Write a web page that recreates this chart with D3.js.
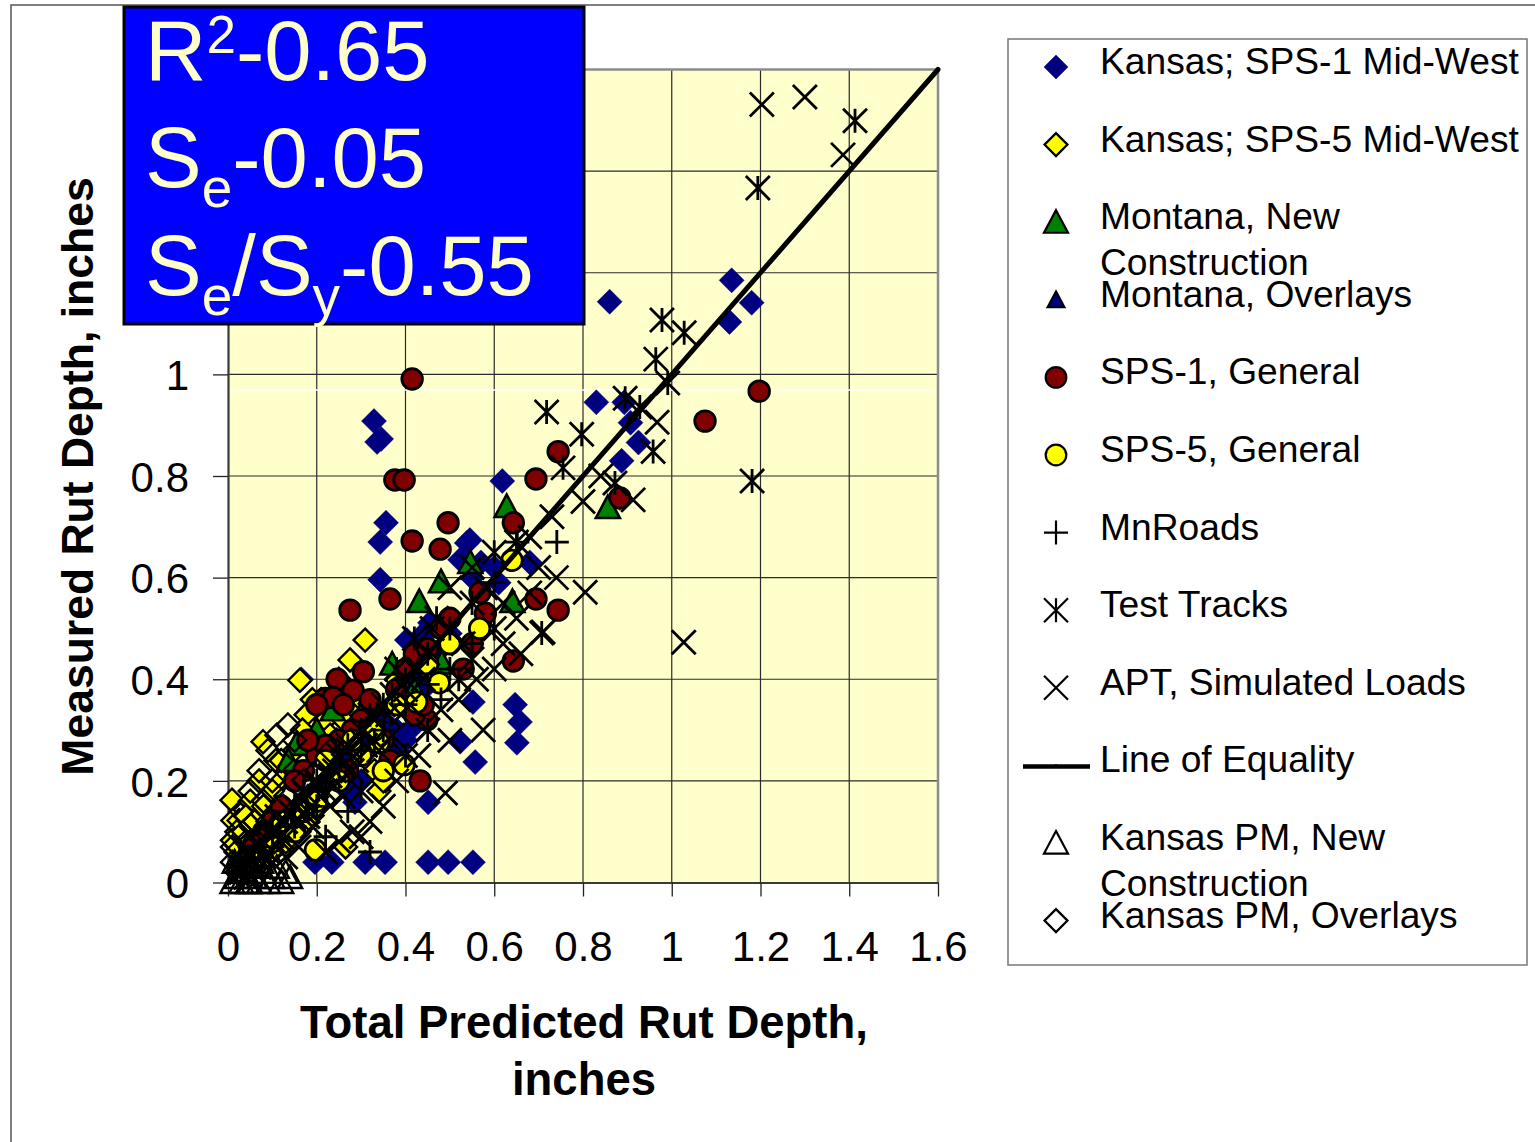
<!DOCTYPE html>
<html>
<head>
<meta charset="utf-8">
<script src="https://cdn.jsdelivr.net/npm/d3@7"></script>
<style>
  body { margin: 0; background: #fff; }
  svg { display: block; }
  text { font-family: Arial, "Liberation Sans", sans-serif; }
</style>
</head>
<body>
<svg id="chart" width="1535" height="1142"></svg>
<script>
// ---- data: [predicted, measured] rut depth in inches ----
const xTickValues = [0, 0.2, 0.4, 0.6, 0.8, 1, 1.2, 1.4, 1.6];
const yTickValues = [0, 0.2, 0.4, 0.6, 0.8, 1, 1.2, 1.4, 1.6];
const xTickLabels = ["0", "0.2", "0.4", "0.6", "0.8", "1", "1.2", "1.4", "1.6"];
// the upper labels sit under the statistics box and are left blank
const yTickLabels = ["0", "0.2", "0.4", "0.6", "0.8", "1", "", "", ""];

const kansasSps1 = [
  [0.86,1.143],[1.135,1.185],[1.18,1.141],[1.13,1.103],
  [0.83,0.945],[0.893,0.945],[0.907,0.905],[0.925,0.866],[0.887,0.83],[0.883,0.757],
  [0.618,0.79],[0.68,0.63],[0.545,0.674],[0.523,0.635],[0.455,0.511],[0.433,0.483],
  [0.403,0.477],[0.455,0.497],[0.57,0.63],[0.61,0.59],[0.55,0.6],[0.6,0.62],
  [0.329,0.908],[0.336,0.867],[0.345,0.873],[0.356,0.708],[0.343,0.67],[0.343,0.596],
  [0.538,0.668],[0.647,0.35],[0.658,0.316],[0.651,0.275],[0.557,0.237],[0.552,0.355],
  [0.523,0.277],[0.451,0.158],[0.286,0.158],[0.165,0.4],
  [0.196,0.04],[0.234,0.04],[0.309,0.04],[0.354,0.04],[0.451,0.04],[0.496,0.04],[0.552,0.04],
  [0.25,0.22],[0.28,0.25],[0.3,0.28],[0.32,0.3],[0.27,0.18],[0.22,0.2],[0.18,0.17],
  [0.15,0.12],[0.12,0.1],[0.35,0.32],[0.38,0.3],[0.4,0.36],[0.42,0.4],[0.44,0.38],
  [0.3,0.2],[0.33,0.22],[0.36,0.26],[0.4,0.28],[0.41,0.3],[0.38,0.26],[0.48,0.46],[0.5,0.49]
];
const kansasSps5 = [
  [0.009,0.162],[0.011,0.122],[0.025,0.122],[0.01,0.083],[0.018,0.06],[0.079,0.277],
  [0.108,0.24],[0.07,0.2],[0.162,0.398],[0.19,0.36],[0.176,0.33],[0.168,0.3],
  [0.309,0.477],[0.275,0.438],[0.25,0.4],[0.21,0.36],[0.22,0.32],[0.23,0.29],
  [0.245,0.28],[0.12,0.2],[0.1,0.18],[0.05,0.16],[0.04,0.13],[0.035,0.1],[0.06,0.12],
  [0.08,0.15],[0.14,0.23],[0.15,0.26],[0.28,0.34],[0.3,0.36],[0.26,0.32],[0.2,0.25],
  [0.33,0.22],[0.34,0.18],[0.35,0.2],[0.265,0.07],[0.13,0.08],[0.1,0.06],[0.577,0.5],
  [0.2,0.15],[0.18,0.12],[0.07,0.05],[0.38,0.4],[0.16,0.1],[0.48,0.5]
];
const montanaNew = [
  [0.628,0.74],[0.856,0.738],[0.641,0.553],[0.431,0.553],[0.48,0.592],[0.546,0.63],
  [0.154,0.272],[0.136,0.24],[0.236,0.34],[0.2,0.3],[0.37,0.43],[0.482,0.432],
  [0.05,0.08],[0.06,0.05],[0.3,0.33],[0.42,0.38]
];
const montanaOverlays = [
  [0.1,0.12],[0.15,0.14],[0.2,0.18],[0.25,0.24],[0.3,0.27],[0.08,0.07],[0.35,0.33],[0.12,0.15]
];
const sps1General = [
  [0.415,0.991],[0.376,0.792],[0.397,0.792],[1.075,0.908],[1.197,0.967],[0.694,0.794],
  [0.744,0.848],[0.883,0.757],[0.496,0.708],[0.415,0.672],[0.478,0.656],[0.643,0.708],
  [0.365,0.558],[0.275,0.536],[0.694,0.558],[0.744,0.536],[0.643,0.436],[0.568,0.571],
  [0.58,0.53],[0.55,0.47],[0.53,0.42],[0.448,0.32],
  [0.433,0.2],[0.365,0.24],[0.246,0.4],[0.282,0.378],[0.305,0.415],[0.219,0.362],
  [0.237,0.364],[0.2,0.35],[0.26,0.35],[0.3,0.32],[0.33,0.3],[0.35,0.28],[0.28,0.3],
  [0.2,0.25],[0.17,0.22],[0.15,0.2],[0.12,0.15],[0.1,0.12],[0.25,0.28],[0.22,0.27],
  [0.32,0.36],[0.4,0.42],[0.42,0.45],[0.38,0.38],[0.45,0.46],[0.48,0.5],[0.5,0.52],
  [0.08,0.1],[0.06,0.08],[0.27,0.22],[0.18,0.28],[0.42,0.33],[0.44,0.35]
];
const sps5General = [
  [0.64,0.634],[0.397,0.232],[0.476,0.393],[0.197,0.064],[0.34,0.275],[0.35,0.22],
  [0.567,0.5],[0.425,0.355],[0.5,0.47],[0.3,0.25],[0.25,0.2],[0.2,0.16],[0.15,0.1],
  [0.1,0.08],[0.12,0.12],[0.22,0.24],[0.28,0.28],[0.33,0.3],[0.38,0.35],[0.45,0.43],
  [0.06,0.05],[0.17,0.14]
];
const mnRoads = [
  [0.741,0.67],[0.652,0.67],[0.6,0.59],[0.5,0.42],[0.45,0.39],[0.4,0.35],[0.35,0.3],
  [0.3,0.26],[0.25,0.2],[0.2,0.15],[0.15,0.11],[0.1,0.07],[0.05,0.03],[0.32,0.06],
  [0.27,0.14],[0.22,0.09],[0.48,0.36],[0.55,0.47]
];
const testTracks = [
  [1.413,1.499],[1.194,1.367],[0.978,1.107],[1.028,1.082],[0.964,1.03],[0.991,0.983],
  [0.895,0.953],[0.928,0.936],[0.958,0.848],[1.181,0.79],[0.872,0.786],[0.718,0.926],
  [0.797,0.882],[0.755,0.816],[0.707,0.491],[0.6,0.65],[0.65,0.67],[0.55,0.55],
  [0.5,0.5],[0.45,0.45],[0.4,0.4],[0.35,0.35],[0.3,0.3],[0.25,0.25],[0.2,0.2],
  [0.15,0.15],[0.1,0.1],[0.05,0.05],[0.47,0.52],[0.42,0.48],[0.38,0.42],[0.33,0.28],
  [0.28,0.22],[0.22,0.18],[0.18,0.14],[0.12,0.08],[0.08,0.05],[0.03,0.02],[0.55,0.44],
  [0.52,0.4],[0.6,0.5],[0.45,0.3],[0.4,0.25],[0.3,0.18],
  [0.07,0.07],[0.13,0.12],[0.17,0.18],[0.23,0.21],[0.27,0.27],[0.32,0.33],[0.37,0.37],[0.43,0.42]
];
const aptSimulated = [
  [1.203,1.531],[1.3,1.546],[1.386,1.432],[1.027,0.473],[0.805,0.571],[0.71,0.493],
  [0.74,0.6],[0.913,0.753],[0.967,0.906],[0.84,0.8],[0.8,0.75],[0.73,0.72],[0.68,0.68],
  [0.66,0.45],[0.65,0.52],[0.62,0.47],[0.6,0.42],[0.575,0.3],[0.49,0.176],[0.5,0.28],
  [0.56,0.4],[0.52,0.36],[0.48,0.34],[0.45,0.3],[0.43,0.25],[0.38,0.2],[0.35,0.15],
  [0.32,0.12],[0.3,0.09],[0.28,0.1],[0.25,0.08],[0.22,0.06],[0.58,0.58],[0.55,0.62],
  [0.5,0.58],[0.46,0.5],[0.42,0.42],[0.4,0.38],[0.36,0.33],[0.33,0.32],[0.3,0.28],
  [0.27,0.26],[0.24,0.22],[0.2,0.19],[0.17,0.16],[0.14,0.14],[0.11,0.1],[0.08,0.08],
  [0.05,0.06],[0.03,0.03],[0.06,0.02],[0.1,0.04],[0.13,0.05],[0.16,0.07],[0.19,0.11],
  [0.23,0.15],[0.26,0.17],[0.68,0.57],[0.62,0.55],[0.7,0.62],[0.53,0.47],
  [0.04,0.01],[0.07,0.03],[0.09,0.06],[0.12,0.09],[0.15,0.12],[0.18,0.13],[0.21,0.17],
  [0.24,0.19],[0.26,0.23],[0.29,0.24],[0.31,0.27],[0.34,0.26],[0.37,0.29],[0.39,0.33],
  [0.41,0.35],[0.44,0.4],[0.02,0.05],[0.05,0.09],[0.08,0.11],[0.11,0.13]
];
const equalityLine = [[0, 0], [1.6, 1.6]];
const kansasPmNew = [
  [0.01,0.0],[0.02,0.01],[0.03,0.0],[0.04,0.02],[0.05,0.0],[0.06,0.01],[0.07,0.0],
  [0.08,0.02],[0.09,0.0],[0.1,0.01],[0.12,0.0],[0.13,0.02],[0.015,0.04],[0.035,0.05],
  [0.055,0.03],[0.075,0.04],[0.11,0.03],[0.14,0.01],[0.025,0.02],[0.045,0.0]
];
const kansasPmOverlays = [
  [0.135,0.31],[0.11,0.29],[0.09,0.26],[0.07,0.22],[0.05,0.18],[0.03,0.14],[0.02,0.1],
  [0.01,0.07],[0.01,0.04],[0.04,0.08],[0.06,0.12],[0.08,0.16],[0.1,0.2],[0.12,0.24],
  [0.15,0.28],[0.05,0.05],[0.03,0.03],[0.07,0.09],[0.09,0.12],[0.17,0.2],[0.2,0.22],
  [0.13,0.17],[0.23,0.26],[0.02,0.02]
];
const statLines = [
  { main: "R", sup: "2", rest: "-0.65" },
  { main: "S", sub: "e", rest: "-0.05" },
  { main: "S", sub: "e", mid: "/S", sub2: "y", rest: "-0.55" }
];

// ---- marker shapes ----
const shapes = {
  diamond: s => `M0,${-s}L${s},0L0,${s}L${-s},0Z`,
  triangle: s => `M0,${-s}L${s},${s * 0.88}L${-s},${s * 0.88}Z`,
  plus: s => `M${-s},0H${s}M0,${-s}V${s}`,
  cross: s => `M${-s},${-s}L${s},${s}M${s},${-s}L${-s},${s}`,
  asterisk: s => `M${-s},${-s}L${s},${s}M${s},${-s}L${-s},${s}M0,${-s}V${s}`,
  circle: s => `M${-s},0A${s},${s} 0 1,0 ${s},0A${s},${s} 0 1,0 ${-s},0Z`
};

const series = [
  { label: ["Kansas; SPS-1 Mid-West"], data: kansasSps1, shape: "diamond", size: 12.5, fill: "#000080", stroke: "#000080", sw: 0.5 },
  { label: ["Kansas; SPS-5 Mid-West"], data: kansasSps5, shape: "diamond", size: 11.5, fill: "#FFFF00", stroke: "#000", sw: 2.4 },
  { label: ["Montana, New", "Construction"], data: montanaNew, shape: "triangle", size: 12, fill: "#008000", stroke: "#000", sw: 2.6 },
  { label: ["Montana, Overlays"], data: montanaOverlays, shape: "triangle", size: 8.5, fill: "#000080", stroke: "#000", sw: 2 },
  { label: ["SPS-1, General"], data: sps1General, shape: "circle", size: 10.3, fill: "#800000", stroke: "#000", sw: 2.8 },
  { label: ["SPS-5, General"], data: sps5General, shape: "circle", size: 10.3, fill: "#FFFF00", stroke: "#000", sw: 2.8 },
  { label: ["MnRoads"], data: mnRoads, shape: "plus", size: 12, fill: "none", stroke: "#000", sw: 2.8 },
  { label: ["Test Tracks"], data: testTracks, shape: "asterisk", size: 12, fill: "none", stroke: "#000", sw: 2.8 },
  { label: ["APT, Simulated Loads"], data: aptSimulated, shape: "cross", size: 12, fill: "none", stroke: "#000", sw: 2.8 },
  { label: ["Line of Equality"], data: equalityLine, line: true },
  { label: ["Kansas PM, New", "Construction"], data: kansasPmNew, shape: "triangle", size: 12, fill: "none", stroke: "#000", sw: 2.4 },
  { label: ["Kansas PM, Overlays"], data: kansasPmOverlays, shape: "diamond", size: 11.5, fill: "none", stroke: "#000", sw: 2.4 }
];

// ---- layout ----
const svg = d3.select("#chart");
const plot = { left: 228, right: 938, top: 69.5, bottom: 882.5 };
const x = d3.scaleLinear().domain([0, 1.6]).range([plot.left, plot.right]);
const y = d3.scaleLinear().domain([0, 1.6]).range([plot.bottom, plot.top]);

// outer chart frame
svg.append("path")
  .attr("d", "M11,1142V5H1535")
  .attr("fill", "none").attr("stroke", "#555").attr("stroke-width", 1.5);

// plot area
svg.append("rect")
  .attr("x", plot.left).attr("y", plot.top)
  .attr("width", plot.right - plot.left).attr("height", plot.bottom - plot.top)
  .attr("fill", "#FFFFCC");

// gridlines
const grid = svg.append("g").attr("stroke", "#2a2a2a").attr("stroke-width", 1.2);
grid.selectAll("line.v").data(xTickValues.slice(1, -1)).join("line")
  .attr("x1", d => x(d)).attr("x2", d => x(d))
  .attr("y1", plot.top).attr("y2", plot.bottom);
grid.selectAll("line.h").data(yTickValues.slice(1, -1)).join("line")
  .attr("y1", d => y(d)).attr("y2", d => y(d))
  .attr("x1", plot.left).attr("x2", plot.right);

// thin light rule across the plot area
svg.append("line")
  .attr("x1", plot.left + 2).attr("x2", plot.right - 2)
  .attr("y1", 390).attr("y2", 390)
  .attr("stroke", "#ffffff").attr("stroke-width", 1.5);

// plot border (top/right)
svg.append("path")
  .attr("d", `M${plot.left},${plot.top}H${plot.right}V${plot.bottom}`)
  .attr("fill", "none").attr("stroke", "#8c8c8c").attr("stroke-width", 2.5);

// axes
const xAxis = d3.axisBottom(x).tickValues(xTickValues)
  .tickFormat((d, i) => xTickLabels[i]).tickSizeInner(14).tickSizeOuter(0).tickPadding(35);
const yAxis = d3.axisLeft(y).tickValues(yTickValues)
  .tickFormat((d, i) => yTickLabels[i]).tickSizeInner(15).tickSizeOuter(0).tickPadding(24);

const gx = svg.append("g").attr("transform", `translate(0,${plot.bottom})`).call(xAxis);
const gy = svg.append("g").attr("transform", `translate(${plot.left},0)`).call(yAxis);
[gx, gy].forEach(g => {
  g.select(".domain").attr("stroke", "#3a3a3a").attr("stroke-width", 2.2);
  g.selectAll(".tick line").attr("stroke", "#222").attr("stroke-width", 1.3);
  g.selectAll(".tick text").attr("font-size", 42).attr("fill", "#000")
    .attr("font-family", "Arial, 'Liberation Sans', sans-serif");
});
gx.selectAll(".tick text").attr("dy", "0.71em");
gy.selectAll(".tick text").attr("dy", "0.36em");

// axis titles
svg.append("text")
  .attr("transform", "translate(93,476.5) rotate(-90)")
  .attr("text-anchor", "middle").attr("font-weight", "bold").attr("font-size", 44.5)
  .text("Measured Rut Depth, inches");
svg.append("text")
  .attr("x", 584).attr("y", 1038)
  .attr("text-anchor", "middle").attr("font-weight", "bold").attr("font-size", 45.5)
  .text("Total Predicted Rut Depth,");
svg.append("text")
  .attr("x", 584).attr("y", 1095)
  .attr("text-anchor", "middle").attr("font-weight", "bold").attr("font-size", 45.5)
  .text("inches");

// series
const marks = svg.append("g");
const lineGen = d3.line().x(d => x(d[0])).y(d => y(d[1]));
series.forEach(s => {
  if (s.line) {
    marks.append("path").attr("d", lineGen(s.data))
      .attr("fill", "none").attr("stroke", "#000").attr("stroke-width", 5)
      .attr("stroke-linecap", "round");
    return;
  }
  marks.append("g").selectAll("path").data(s.data).join("path")
    .attr("transform", d => `translate(${x(d[0])},${y(d[1])})`)
    .attr("d", shapes[s.shape](s.size))
    .attr("fill", s.fill).attr("stroke", s.stroke).attr("stroke-width", s.sw)
    .attr("stroke-linejoin", "miter");
});

// statistics box
const box = svg.append("g");
box.append("rect")
  .attr("x", 124).attr("y", 7).attr("width", 460).attr("height", 317)
  .attr("fill", "#0000FF").attr("stroke", "#000").attr("stroke-width", 3);
const statBase = [80, 187, 295];
statLines.forEach((ln, i) => {
  const t = box.append("text").attr("x", 145).attr("y", statBase[i])
    .attr("font-size", 85).attr("fill", "#FFFFCC");
  t.append("tspan").text(ln.main);
  if (ln.sup) t.append("tspan").attr("font-size", 53).attr("dy", -27).text(ln.sup);
  if (ln.sub) t.append("tspan").attr("font-size", 55).attr("dy", 20).text(ln.sub);
  if (ln.mid) {
    t.append("tspan").attr("dy", -20).text(ln.mid);
    t.append("tspan").attr("font-size", 55).attr("dy", 20).text(ln.sub2);
  }
  const back = ln.sup ? 27 : -20;
  t.append("tspan").attr("dy", back).text(ln.rest);
});

// legend
const legend = svg.append("g");
legend.append("rect")
  .attr("x", 1008).attr("y", 39).attr("width", 519).attr("height", 926)
  .attr("fill", "#fff").attr("stroke", "#777").attr("stroke-width", 1.5);
series.forEach((s, i) => {
  const base = 74 + 77.6 * i;
  const my = base - 7;
  if (s.line) {
    legend.append("line").attr("x1", 1023).attr("x2", 1090).attr("y1", my + 1).attr("y2", my + 1)
      .attr("stroke", "#000").attr("stroke-width", 4.5);
    legend.append("circle").attr("cx", 1056).attr("cy", my).attr("r", 1.5).attr("fill", "#000");
  } else {
    legend.append("path").attr("transform", `translate(1056,${my})`)
      .attr("d", shapes[s.shape](Math.min(s.size, 12)))
      .attr("fill", s.fill === "none" ? "#fff" : s.fill).attr("stroke", s.stroke)
      .attr("stroke-width", Math.min(s.sw, 2.2));
  }
  s.label.forEach((ln, j) => {
    legend.append("text").attr("x", 1100).attr("y", base + j * 46)
      .attr("font-size", 37.2).attr("fill", "#000").text(ln);
  });
});
</script>
</body>
</html>
